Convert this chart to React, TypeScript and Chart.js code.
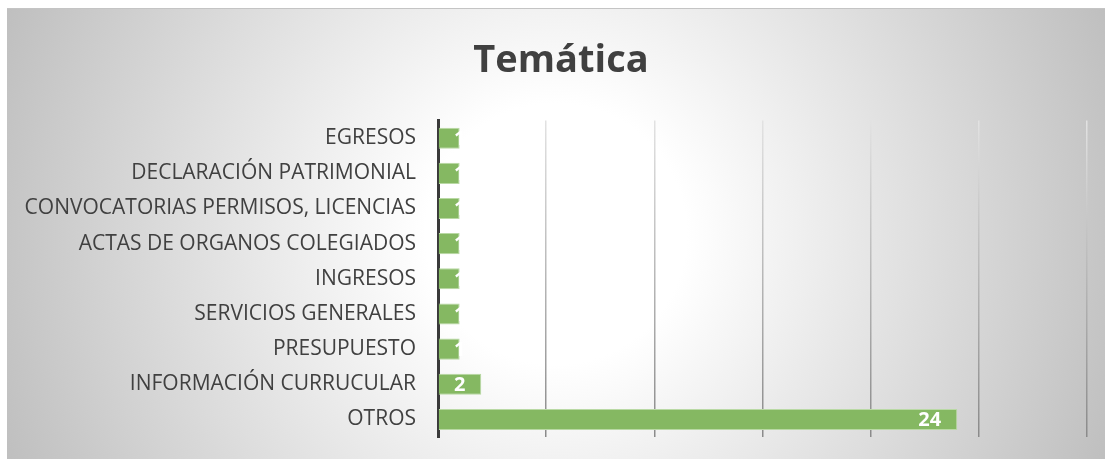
import React, { useEffect, useRef } from "react";
import { Chart, registerables } from "chart.js";

Chart.register(...registerables);

const categories: string[] = [
  "EGRESOS",
  "DECLARACIÓN PATRIMONIAL",
  "CONVOCATORIAS PERMISOS, LICENCIAS",
  "ACTAS DE ORGANOS COLEGIADOS",
  "INGRESOS",
  "SERVICIOS GENERALES",
  "PRESUPUESTO",
  "INFORMACIÓN CURRUCULAR",
  "OTROS",
];
const values: number[] = [1, 1, 1, 1, 1, 1, 1, 2, 24];
const chartTitle = "Temática";
const axisMin = 0;
const axisMax = 30;
const axisStep = 5;

const FONT = "'Open Sans', Lato, sans-serif";

const labelPlugin = {
  id: "barLabels",
  afterLayout(chart: any) {
    const tb = chart.titleBlock;
    if (tb) tb.left = 28;
  },
  afterDatasetsDraw(chart: any) {
    const ctx = chart.ctx;
    const meta = chart.getDatasetMeta(0);
    ctx.save();
    ctx.font = `bold 20px ${FONT}`;
    ctx.fillStyle = "#ffffff";
    ctx.textAlign = "center";
    ctx.textBaseline = "middle";
    meta.data.forEach((el: any, i: number) => {
      const txt = String(values[i]);
      const w = ctx.measureText(txt).width;
      const cx = Math.max(el.x - 16 - w / 2, el.base + 21);
      ctx.fillText(txt, cx, el.y + 1);
    });
    ctx.restore();
  },
};

export default function App() {
  const ref = useRef<HTMLCanvasElement | null>(null);
  useEffect(() => {
    if (!ref.current) return;
    const chart = new Chart(ref.current, {
      type: "bar",
      data: {
        labels: categories,
        datasets: [
          {
            data: values,
            backgroundColor: "#85b862",
            borderColor: "#b9d9a4",
            borderWidth: 1,
            borderSkipped: "left",
            barPercentage: 0.6,
            categoryPercentage: 1,
          },
        ],
      },
      options: {
        indexAxis: "y",
        animation: false,
        responsive: false,
        maintainAspectRatio: false,
        layout: { padding: { left: 0, right: 18, top: 0, bottom: 22 } },
        plugins: {
          legend: { display: false },
          tooltip: { enabled: false },
          title: {
            display: true,
            text: chartTitle,
            color: "#404040",
            font: { family: FONT, size: 38, weight: "bold" },
            padding: { top: 29, bottom: 37 },
          },
        },
        scales: {
          x: {
            min: axisMin,
            max: axisMax,
            ticks: { stepSize: axisStep, display: false },
            border: { display: false },
            grid: {
              drawTicks: false,
              lineWidth: 1.5,
              color: (c: any) => {
                if (c.tick && c.tick.value === 0) return "rgba(0,0,0,0)";
                const a = c.chart.chartArea;
                if (!a) return "#bfbfbf";
                const g = c.chart.ctx.createLinearGradient(0, a.top, 0, a.bottom);
                g.addColorStop(0, "#e2e2e2");
                g.addColorStop(1, "#8a8a8a");
                return g;
              },
            },
          },
          y: {
            afterFit: (s: any) => {
              s.width = 431;
              s.paddingTop = 0;
              s.paddingBottom = 0;
            },
            ticks: {
              color: "#404040",
              font: { family: FONT, size: 21 },
              padding: 22,
            },
            border: { display: true, color: "#3a3a3a", width: 3 },
            grid: { display: false, drawTicks: false },
          },
        },
      },
      plugins: [labelPlugin],
    });
    return () => chart.destroy();
  }, []);
  return (
    <div
      style={{
        position: "fixed",
        left: 7,
        top: 8,
        right: 0,
        bottom: 0,
        borderTop: "1px solid #c4c4c4",
        boxSizing: "border-box",
        background:
          "radial-gradient(circle farthest-corner at 50% 50%, #ffffff 0%, #ffffff 22%, #bfbfbf 100%)",
      }}
    >
      <canvas ref={ref} width={1098} height={450} style={{ display: "block" }} />
    </div>
  );
}
